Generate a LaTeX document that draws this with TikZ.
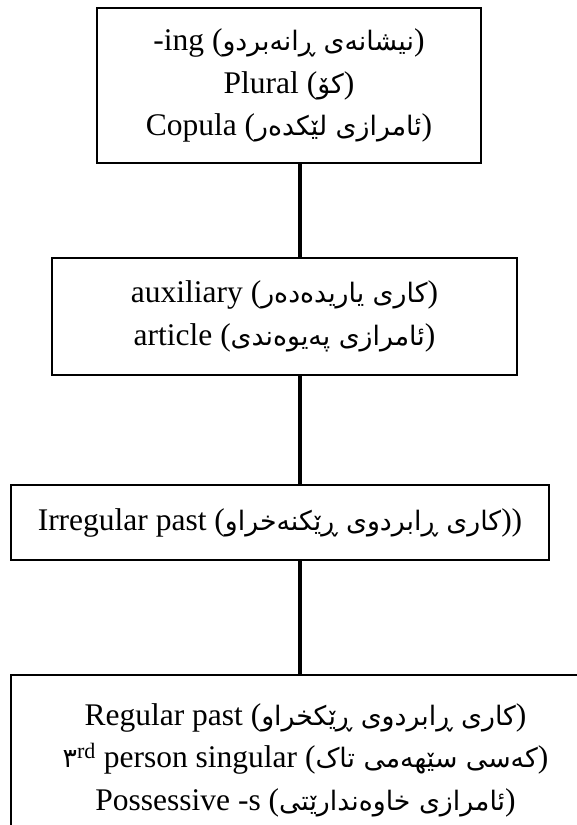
\documentclass[tikz,border=0pt]{standalone}
\usepackage{fontspec}
\setmainfont{Liberation Serif}
\newfontfamily\kurdfont[Script=Arabic,Scale=0.85]{DejaVu Sans}
\TeXXeTstate=1
\newcommand{\ku}[1]{{\kurdfont\beginR #1\endR}}

\begin{document}
\begin{tikzpicture}[x=1pt,y=-1pt]
\tikzstyle{every node}+=[inner sep=0pt]
\tikzstyle{box}=[draw=black, line width=1.2pt, rectangle, align=center, font=\fontsize{31.5}{42.5}\selectfont]
\tikzstyle{link}=[draw=black, line width=3.5pt]
\useasboundingbox (0,0) rectangle (577,825);
\coordinate (spine) at (300,0);
\node [box, minimum width=384, minimum height=155] (morph) at (289,85.5)
  {-ing (\ku{نیشانەی ڕانەبردو})\\Plural (\ku{کۆ})\\Copula (\ku{ئامرازی لێکدەر})};
\node [box, minimum width=465, minimum height=117] (aux) at (284.5,316.5)
  {auxiliary (\ku{کاری یاریدەدەر})\\article (\ku{ئامرازی پەیوەندی})};
\node [box, minimum width=538, minimum height=75] (irreg) at (280,522.5)
  {Irregular past (\ku{کاری ڕابردوی ڕێکنەخراو}))};
\node [box, minimum width=589, minimum height=170] (reg) at (305.5,760)
  {Regular past (\ku{کاری ڕابردوی ڕێکخراو})\\
   \ku{٣}\textsuperscript{rd} person singular (\ku{کەسی سێهەمی تاک})\\
   Possessive -s (\ku{ئامرازی خاوەندارێتی})};
\draw [link] (morph.south -| spine) -- (aux.north -| spine);
\draw [link] (aux.south -| spine) -- (irreg.north -| spine);
\draw [link] (irreg.south -| spine) -- (reg.north -| spine);
\end{tikzpicture}
\end{document}
